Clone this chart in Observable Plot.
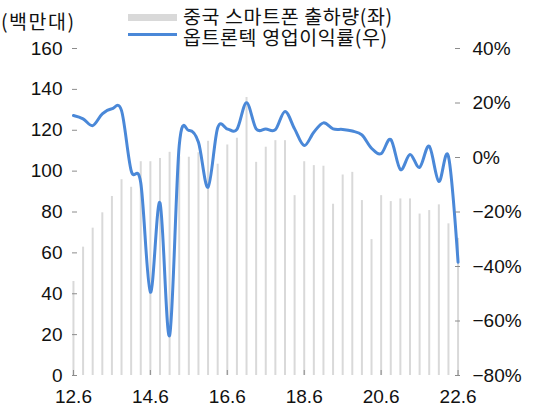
<!DOCTYPE html>
<html>
<head>
<meta charset="utf-8">
<script src="https://cdn.jsdelivr.net/npm/d3@7"></script>
<script src="https://cdn.jsdelivr.net/npm/@observablehq/plot@0.6"></script>
<style>
  html, body { margin: 0; padding: 0; background: #fff; }
  #wrap { position: relative; width: 542px; height: 408px; font-family: "Liberation Sans", "Noto Sans CJK KR", sans-serif; }
  #wrap svg { position: absolute; left: 0; top: 0; }
  .lg { position: absolute; font-family: "Noto Sans CJK KR", sans-serif; font-size: 19.5px; line-height: 20px; height: 20px; color: #111; white-space: nowrap; letter-spacing: 0.6px; }
  .sw { position: absolute; }
</style>
</head>
<body>
<div id="wrap">
  <div class="lg" style="left:1px; top:11px; letter-spacing:1.5px;">(백만대)</div>
  <div class="sw" style="left:128px; top:14px; width:49px; height:7px; background:#d9d9d9;"></div>
  <div class="lg" style="left:183px; top:6px;">중국 스마트폰 출하량(좌)</div>
  <div class="sw" style="left:128px; top:33px; width:49px; height:3px; background:#4a88d8;"></div>
  <div class="lg" style="left:183px; top:27px;">옵트론텍 영업이익률(우)</div>
</div>
<script>
// Quarter labels (year.month), 2012 Q2 through 2022 Q2
const quarters = [
  "12.6","12.9","12.12","13.3","13.6","13.9","13.12","14.3","14.6","14.9","14.12",
  "15.3","15.6","15.9","15.12","16.3","16.6","16.9","16.12","17.3","17.6","17.9","17.12",
  "18.3","18.6","18.9","18.12","19.3","19.6","19.9","19.12","20.3","20.6","20.9","20.12",
  "21.3","21.6","21.9","21.12","22.3","22.6"
];

// China smartphone shipments, million units (left axis)
const shipments = [
  46, 62.8, 72.1, 79.6, 87.6, 95.8, 92.1, 104.6, 104.6, 106.2, 109.2,
  107, 106.8, 109, 114.6, 103.4, 112.8, 116.1, 136, 104.3, 111.7, 114.9, 114.9,
  88, 104.6, 102.7, 102.4, 83.8, 98.1, 99.4, 85.6, 66.5, 88, 85.1, 86.4,
  86.4, 79, 80.7, 83.5, 74.2, 67.1
];

// Optrontec operating margin, % (right axis)
const margin = [
  15.4, 14.2, 11.7, 16.0, 17.9, 17.2, -4.8, -9.3, -49.4, -16.6, -65.3,
  4.4, 9.9, 5.6, -10.9, 10.9, 10.5, 10.3, 20.1, 10.5, 10.5, 10.2, 16.9,
  10.5, 4.4, 9.3, 12.7, 10.5, 10.3, 9.7, 8.3, 3.4, 1.4, 6.6, -4.4,
  1.1, -3.6, 4.1, -8.8, 0.4, -38.4
];

const leftTicks = [0, 20, 40, 60, 80, 100, 120, 140, 160];
const rightTicks = [-80, -60, -40, -20, 0, 20, 40];
const xTickLabels = ["12.6", "14.6", "16.6", "18.6", "20.6", "22.6"];

// Right-axis percentages share the left scale: -80%..40% maps onto 0..160
const pctToLeft = p => (p + 80) * 160 / 120;
const leftToPct = v => v * 120 / 160 - 80;

const rows = quarters.map((q, i) => ({ i, q, units: shipments[i], pct: margin[i] }));

const axisColor = "#8c8c8c";

const chart = Plot.plot({
  width: 542,
  height: 408,
  marginLeft: 72,
  marginRight: 83,
  marginTop: 48,
  marginBottom: 33,
  style: { fontFamily: "'Liberation Sans', 'Noto Sans CJK KR', sans-serif", fontSize: "19px", color: "#111", background: "transparent", overflow: "visible" },
  x: { type: "linear", domain: [-0.1, 40.15] },
  y: { domain: [0, 160] },
  marks: [
    Plot.ruleX(rows, { x: "i", y1: 0, y2: "units", stroke: "#d9d9d9", strokeWidth: 2 }),
    Plot.lineY(rows, { x: "i", y: d => pctToLeft(d.pct), curve: "cardinal", tension: 0, stroke: "#4a88d8", strokeWidth: 3 }),
    Plot.axisY({ anchor: "left", ticks: leftTicks, tickSize: -5, tickPadding: 15, stroke: axisColor, line: true, label: null, tickFormat: d => String(d) }),
    Plot.axisY({ anchor: "right", ticks: rightTicks.map(pctToLeft), tickSize: -5, tickPadding: 18, stroke: axisColor, line: true, label: null,
      tickFormat: v => { const p = Math.round(leftToPct(v)); return (p < 0 ? "\u2212" + Math.abs(p) : String(p)) + "%"; } }),
    Plot.axisX({ ticks: xTickLabels.map(l => quarters.indexOf(l)), tickSize: -5, tickPadding: 19, stroke: axisColor, line: true, label: null,
      tickFormat: i => quarters[i] })
  ]
});

document.getElementById("wrap").prepend(chart);
</script>
</body>
</html>
